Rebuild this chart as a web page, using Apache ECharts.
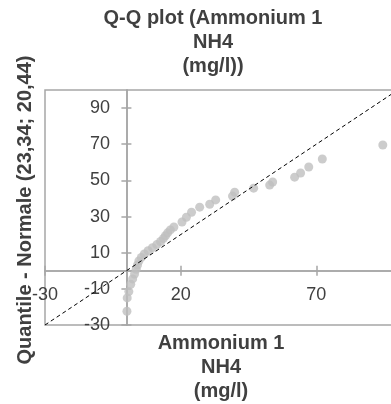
<!DOCTYPE html>
<html>
<head>
<meta charset="utf-8">
<script src="https://cdn.jsdelivr.net/npm/echarts@6/dist/echarts.min.js"></script>
<style>
  html, body { margin: 0; padding: 0; background: #fff; }
  #chart { width: 391px; height: 404px; }
</style>
</head>
<body>
<div id="chart"></div>
<script>
// observed values (Ammonium 1 NH4, mg/l), sorted
const observed = [
  0.2, 0.3, 0.9, 1.6, 2.3, 3.0, 3.6, 4.1, 4.6, 5.5,
  6.6, 8.0, 9.6, 11.2, 12.6, 13.6, 14.4, 15.2, 16.2, 17.5,
  20.5, 22.1, 24.0, 27.0, 30.7, 32.9, 39.1, 39.9, 46.9, 52.8,
  53.9, 62.0, 64.2, 67.2, 72.2, 94.5
];
// normal quantiles (mean 23,34; sd 20,44)
const quantiles = [
  -22.4, -15.0, -11.5, -7.5, -4.5, -1.8, 0.8, 3.2, 5.4, 7.4,
  9.3, 11.1, 12.8, 14.5, 16.2, 17.8, 19.4, 21.0, 22.6, 24.2,
  27.0, 29.6, 32.4, 35.2, 36.8, 39.2, 41.3, 43.5, 45.7, 47.4,
  49.1, 51.8, 54.1, 57.4, 61.8, 69.6
];
// y = x reference line
const refLine = [[-30, -30], [120, 120]];
const yTicks = [-30, -10, 10, 30, 50, 70, 90];

const points = observed.map((v, i) => [v, quantiles[i]]);

const axisGray = "#a6a6a6";
const textColor = "#404040";
const font = "'Liberation Sans', Arial, sans-serif";

const chartDom = document.getElementById("chart");
const myChart = echarts.init(chartDom, null, { renderer: "canvas" });

// plot area runs past the right edge of the picture, as in the original
const gridBox = { left: 45, top: 90, width: 407, height: 235, outerBoundsMode: "none", containLabel: false };

const axisLine = { show: true, onZero: true, lineStyle: { color: axisGray, width: 1.5 } };
const tickStyle = { color: axisGray, width: 1.5 };

const option = {
  animation: false,
  backgroundColor: "#fff",
  textStyle: { fontFamily: font },
  grid: [
    Object.assign({ show: true, borderColor: axisGray, borderWidth: 1.5, backgroundColor: "transparent" }, gridBox),
    // second grid only carries the inner half of the cross ticks
    Object.assign({ show: false }, gridBox),
  ],
  graphic: [
    {
      type: "text",
      x: 213,
      y: 42,
      style: {
        text: "Q-Q plot (Ammonium 1\nNH4\n(mg/l))",
        fill: textColor,
        font: "bold 20px " + font,
        lineHeight: 24,
        align: "center",
        verticalAlign: "middle",
      },
    },
    {
      type: "text",
      x: 221,
      y: 367,
      style: {
        text: "Ammonium 1\nNH4\n(mg/l)",
        fill: textColor,
        font: "bold 20px " + font,
        lineHeight: 24,
        align: "center",
        verticalAlign: "middle",
      },
    },
    {
      type: "text",
      x: 25,
      y: 210,
      rotation: Math.PI / 2,
      style: {
        text: "Quantile - Normale (23,34; 20,44)",
        fill: textColor,
        font: "bold 20px " + font,
        align: "center",
        verticalAlign: "middle",
      },
    },
  ],
  xAxis: [
    {
      type: "value",
      gridIndex: 0,
      position: "bottom",
      min: -30,
      max: 120,
      interval: 50,
      splitLine: { show: false },
      axisLine: axisLine,
      axisTick: { show: true, length: 5, lineStyle: tickStyle },
      // labels sit under the zero line, not under the plot border
      axisLabel: { color: textColor, fontSize: 18, margin: -39, fontFamily: font },
    },
    {
      type: "value",
      gridIndex: 1,
      position: "top",
      min: -30,
      max: 120,
      interval: 50,
      splitLine: { show: false },
      axisLine: axisLine,
      axisTick: { show: true, length: 5, lineStyle: tickStyle },
      axisLabel: { show: false },
    },
  ],
  yAxis: [
    {
      type: "value",
      gridIndex: 0,
      position: "left",
      min: -30,
      max: 100,
      splitLine: { show: false },
      axisLine: axisLine,
      axisTick: { show: true, length: 5, customValues: yTicks, lineStyle: tickStyle },
      axisLabel: { color: textColor, fontSize: 18, margin: -65, customValues: yTicks, fontFamily: font },
    },
    {
      type: "value",
      gridIndex: 1,
      position: "right",
      min: -30,
      max: 100,
      splitLine: { show: false },
      axisLine: axisLine,
      axisTick: { show: true, length: 5, customValues: yTicks, lineStyle: tickStyle },
      axisLabel: { show: false },
    },
  ],
  series: [
    {
      name: "Ammonium 1 NH4 (mg/l)",
      type: "scatter",
      xAxisIndex: 0,
      yAxisIndex: 0,
      symbol: "circle",
      symbolSize: 9,
      itemStyle: { color: "#bfbfbf" },
      data: points,
      silent: true,
    },
    {
      name: "y = x",
      type: "line",
      xAxisIndex: 0,
      yAxisIndex: 0,
      symbol: "none",
      clip: true,
      lineStyle: { color: "#000", width: 1, type: [4, 3] },
      data: refLine,
      silent: true,
    },
  ],
};
myChart.setOption(option);
</script>
</body>
</html>
